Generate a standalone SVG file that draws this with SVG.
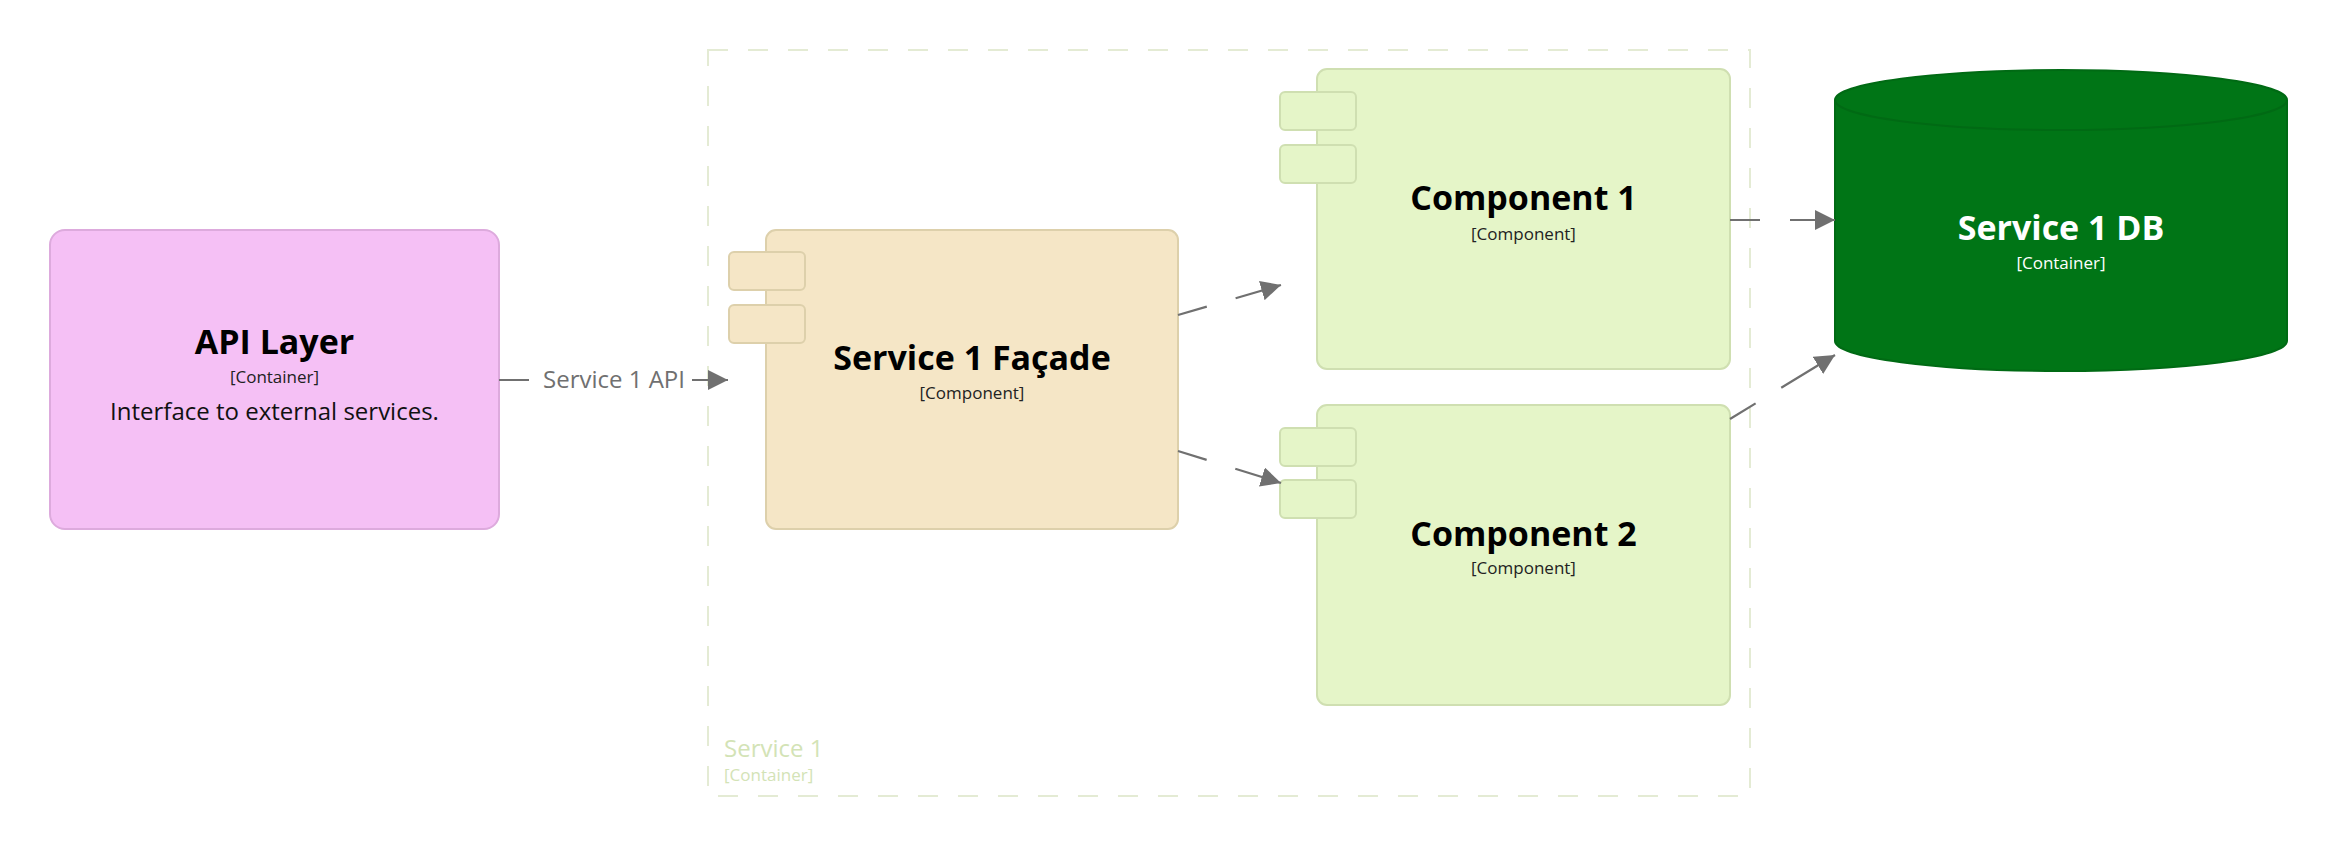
<svg xmlns="http://www.w3.org/2000/svg" width="2336" height="846" viewBox="0 0 2336 846">
<style>
text{font-family:"Open Sans","Noto Sans","Liberation Sans",sans-serif;text-anchor:middle}
.title{font-size:34px;font-weight:bold;fill:#000}
.meta{font-size:17px;fill:#222}
.desc{font-size:24px;fill:#111}
.comp{fill:#e5f5c8;stroke:#cfdfb1;stroke-width:2}
.facade{fill:#f5e6c6;stroke:#ddd0ab;stroke-width:2}
.conn{fill:none;stroke:#707070;stroke-width:2.2;stroke-dasharray:30 30 600}
.lbl{font-size:24px;fill:#707070}
</style>
<defs>
<marker id="arr" markerUnits="userSpaceOnUse" markerWidth="20" markerHeight="20" refX="20" refY="10" orient="auto" viewBox="0 0 20 20">
<path d="M0,0 L20,10 L0,20 z" fill="#707070"/>
</marker>
</defs>
<rect width="2336" height="846" fill="#fff"/>
<g id="service1-boundary">
<rect x="708" y="50" width="1042" height="746" fill="none" stroke="#e4ebd4" stroke-width="2" stroke-dasharray="20 20"/>
<text x="724" y="757" style="text-anchor:start;font-size:24px;fill:#d3e3b6">Service 1</text>
<text x="724" y="781" style="text-anchor:start;font-size:17px;fill:#d3e3b6">[Container]</text>
</g>
<g id="api-layer">
<rect x="50" y="230" width="449" height="299" rx="15" fill="#f5c0f5" stroke="#ddaadd" stroke-width="2"/>
<text class="title" x="274.5" y="354">API Layer</text>
<text class="meta" x="274.5" y="383">[Container]</text>
<text class="desc" x="274.5" y="420">Interface to external services.</text>
</g>
<g id="service1-facade">
<rect class="facade" x="766" y="230" width="412" height="299" rx="10"/>
<rect class="facade" x="729" y="252" width="76" height="38" rx="5"/>
<rect class="facade" x="729" y="305" width="76" height="38" rx="5"/>
<text class="title" x="972" y="370">Service 1 Façade</text>
<text class="meta" x="972" y="399">[Component]</text>
</g>
<g id="component1">
<rect class="comp" x="1317" y="69" width="413" height="300" rx="10"/>
<rect class="comp" x="1280" y="92" width="76" height="38" rx="5"/>
<rect class="comp" x="1280" y="145" width="76" height="38" rx="5"/>
<text class="title" x="1523.5" y="210">Component 1</text>
<text class="meta" x="1523.5" y="240">[Component]</text>
</g>
<g id="component2">
<rect class="comp" x="1317" y="405" width="413" height="300" rx="10"/>
<rect class="comp" x="1280" y="428" width="76" height="38" rx="5"/>
<rect class="comp" x="1280" y="480" width="76" height="38" rx="5"/>
<text class="title" x="1523.5" y="546">Component 2</text>
<text class="meta" x="1523.5" y="574">[Component]</text>
</g>
<g id="service1-db">
<path d="M1835,100 A226,30 0 0 1 2287,100 L2287,341 A226,30 0 0 1 1835,341 Z" fill="#007516" stroke="#006a14" stroke-width="2"/>
<path d="M1835,100 A226,30 0 0 0 2287,100" fill="none" stroke="#006a14" stroke-width="2"/>
<text class="title" x="2061" y="240" style="fill:#fff">Service 1 DB</text>
<text class="meta" x="2061" y="269" style="fill:#fff">[Container]</text>
</g>
<g id="connectors">
<path class="conn" d="M499,380 L728,380" marker-end="url(#arr)"/>
<rect x="537" y="364" width="155" height="32" fill="#fff"/>
<text class="lbl" x="614" y="388">Service 1 API</text>
<path class="conn" d="M1178,315 L1281,285" marker-end="url(#arr)"/>
<path class="conn" d="M1178,451 L1281,483" marker-end="url(#arr)"/>
<path class="conn" d="M1730,220 L1835,220" marker-end="url(#arr)"/>
<path class="conn" d="M1730,419 L1835,355" marker-end="url(#arr)"/>
</g>
</svg>
